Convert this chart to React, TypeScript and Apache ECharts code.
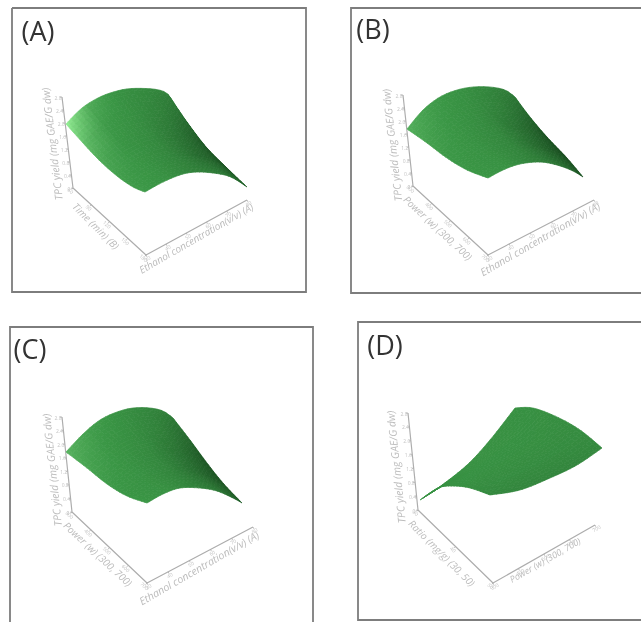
import React, { useEffect, useRef } from "react";
import * as echarts from "echarts";

type Pt = [number, number];

// --- Surface outlines (four edges: L→T, B→R, L→B, T→R)
const aLeftTop: Pt[] = [[66,124],[82,108],[100,97],[117,91],[132,88.5],[153,89],[165,92],[170,97]];
const aBottomRight: Pt[] = [[145,192],[163,182],[183,174],[200,172],[220,174],[233,178],[247,187]];
const aLeftBottom: Pt[] = [[66,124],[83,143],[100,161],[117,176],[133,187],[145,192]];
const aTopRight: Pt[] = [[170,97],[187,122],[207,148],[227,168],[247,187]];

const bLeftTop: Pt[] = [[407,129],[423,110],[440,97],[457,90],[473,87],[490,87],[505,90],[515,97]];
const bBottomRight: Pt[] = [[488,178],[503,170],[520,164],[540,162],[557,165],[573,171],[583,177]];
const bLeftBottom: Pt[] = [[407,129],[427,143],[447,158],[467,170],[488,178]];
const bTopRight: Pt[] = [[515,97],[530,117],[547,137],[567,158],[583,177]];

const cLeftTop: Pt[] = [[66,452],[83,434],[100,420],[117,412],[133,408],[150,408],[163,411],[173,418]];
const cBottomRight: Pt[] = [[147,503],[163,494],[180,488],[200,488],[217,491],[233,498],[242,503]];
const cLeftBottom: Pt[] = [[66,452],[87,468],[107,484],[127,496],[147,503]];
const cTopRight: Pt[] = [[173,418],[190,440],[207,463],[223,483],[242,503]];

const dLeftTop: Pt[] = [[420,500],[438,488],[467,465],[490,440],[515,408]];
const dBottomRight: Pt[] = [[490,495],[520,490],[550,478],[577,465],[602,448]];
const dLeftBottom: Pt[] = [[420,500],[438,488],[453,486],[470,488],[490,495]];
const dTopRight: Pt[] = [[515,408],[533,408],[557,417],[580,430],[602,448]];

// --- Shading (0 dark, .5 mid green, 1 pale green)
const aShade = [
  [1.0, .62, .48, .44, .38],
  [.72, .52, .46, .38, .25],
  [.60, .49, .43, .30, .12],
  [.54, .48, .40, .24, .10],
  [.52, .47, .38, .34, .20],
];
const bShade = [
  [.64, .54, .48, .42, .34],
  [.56, .50, .45, .36, .20],
  [.52, .48, .42, .27, .09],
  [.50, .47, .40, .22, .06],
  [.50, .47, .38, .30, .12],
];
const cShade = [
  [.66, .55, .48, .42, .36],
  [.58, .50, .45, .37, .22],
  [.53, .48, .42, .29, .12],
  [.50, .47, .40, .25, .10],
  [.50, .47, .39, .32, .18],
];
const dShade = [
  [.48, .48, .47, .47, .47],
  [.48, .47, .47, .47, .46],
  [.47, .46, .46, .46, .45],
  [.45, .44, .44, .44, .44],
  [.42, .40, .40, .40, .42],
];

// --- Axis lines: top of z axis, origin, floor corner, far end of floor axis
const aAxes: Pt[] = [[62,97],[73,188],[146,255],[247,200]];
const bAxes: Pt[] = [[403,95],[413,186],[488,255],[594,200]];
const cAxes: Pt[] = [[62,417],[72,512],[147,583],[253,527]];
const dAxes: Pt[] = [[408,413],[418,510],[493,583],[595,525]];

// --- Texts
const panelLabels = ["(A)", "(B)", "(C)", "(D)"];
const zTitle = "TPC yield (mg GAE/G dw)";
const ethanolTitle = "Ethanol concentration(v/v) (A)";
const timeTitle = "Time (min) (B)";
const powerTitle = "Power (w) (300, 700)";
const ratioTitle = "Ratio (mg/g) (30, 50)";
const zTicks = ["0", "0.4", "0.8", "1.2", "1.6", "2.0", "2.4", "2.8"];
const ethanolTicks = ["30", "40", "50", "60", "70", "80"];
const timeTicks = ["60", "90", "120", "150", "180"];
const powerTicks = ["300", "400", "500", "600", "700"];
const ratioTicks = ["30", "40", "50"];

const ramp = ["#123f18", "#3a9645", "#9af59a"];
const axisColor = "#adadad";
const textColor = "#bcbcbc";

const panels = [
  { edges: [aLeftTop, aBottomRight, aLeftBottom, aTopRight], shade: aShade, axes: aAxes,
    left: timeTitle, leftTicks: timeTicks, right: ethanolTitle, rightTicks: ethanolTicks,
    zPos: [52,144], lPos: [96,226], lRot: -45, rPos: [196,238], rRot: 30, rSize: 10, label: [38,30] },
  { edges: [bLeftTop, bBottomRight, bLeftBottom, bTopRight], shade: bShade, axes: bAxes,
    left: powerTitle, leftTicks: powerTicks, right: ethanolTitle, rightTicks: ethanolTicks,
    zPos: [392,145], lPos: [438,228], lRot: -43, rPos: [540,239], rRot: 30, rSize: 10.5, label: [373,28] },
  { edges: [cLeftTop, cBottomRight, cLeftBottom, cTopRight], shade: cShade, axes: cAxes,
    left: powerTitle, leftTicks: powerTicks, right: ethanolTitle, rightTicks: ethanolTicks,
    zPos: [52,470], lPos: [98,554], lRot: -43, rPos: [199,568], rRot: 30, rSize: 10.5, label: [30,348] },
  { edges: [dLeftTop, dBottomRight, dLeftBottom, dTopRight], shade: dShade, axes: dAxes,
    left: ratioTitle, leftTicks: ratioTicks, right: powerTitle, rightTicks: powerTicks,
    zPos: [396,467], lPos: [442,553], lRot: -45, rPos: [545,560], rRot: 30, rSize: 9, label: [385,344] },
];

const frames = [
  { points: [[12,8],[306,8],[306,292],[12,292],[12,8]] },
  { points: [[641,8],[351,8],[351,293],[641,293]] },
  { points: [[10,622],[10,327],[313,327],[313,622]] },
  { points: [[641,322],[358,322],[358,620],[641,620]] },
];

const MESH = 26;

function sampleEdge(pts: Pt[], n: number): Pt[] {
  const lens = [0];
  for (let i = 1; i < pts.length; i++) {
    lens.push(lens[i - 1] + Math.hypot(pts[i][0] - pts[i - 1][0], pts[i][1] - pts[i - 1][1]));
  }
  const total = lens[lens.length - 1];
  const out: Pt[] = [];
  for (let k = 0; k <= n; k++) {
    const d = (k / n) * total;
    let i = 0;
    while (i < pts.length - 2 && lens[i + 1] < d) i++;
    const f = (d - lens[i]) / (lens[i + 1] - lens[i]);
    const p0 = pts[Math.max(i - 1, 0)], p1 = pts[i], p2 = pts[i + 1], p3 = pts[Math.min(i + 2, pts.length - 1)];
    const cr = (a: number, b: number, c: number, e: number) =>
      0.5 * (2 * b + (c - a) * f + (2 * a - 5 * b + 4 * c - e) * f * f + (3 * b - a - 3 * c + e) * f * f * f);
    out.push([cr(p0[0], p1[0], p2[0], p3[0]), cr(p0[1], p1[1], p2[1], p3[1])]);
  }
  return out;
}

function shadeAt(g: number[][], s: number, t: number) {
  const m = g.length - 1;
  const x = Math.min(s * m, m - 1e-6), y = Math.min(t * m, m - 1e-6);
  const i = Math.floor(y), j = Math.floor(x);
  const fx = x - j, fy = y - i;
  return (g[i][j] * (1 - fx) + g[i][j + 1] * fx) * (1 - fy) + (g[i + 1][j] * (1 - fx) + g[i + 1][j + 1] * fx) * fy;
}

function buildCells(edges: Pt[][], shade: number[][]) {
  const [e1, e2, e3, e4] = edges.map((e) => sampleEdge(e, MESH));
  const L = e1[0], T = e1[MESH], B = e2[0], R = e2[MESH];
  const P = (a: number, b: number): Pt => {
    const s = a / MESH, t = b / MESH;
    const f = (c: 0 | 1) =>
      (1 - t) * e1[a][c] + t * e2[a][c] + (1 - s) * e3[b][c] + s * e4[b][c] -
      ((1 - s) * (1 - t) * L[c] + s * (1 - t) * T[c] + (1 - s) * t * B[c] + s * t * R[c]);
    return [f(0), f(1)];
  };
  const cells: number[][] = [];
  for (let b = 0; b < MESH; b++) {
    for (let a = 0; a < MESH; a++) {
      const p = [P(a, b), P(a + 1, b), P(a + 1, b + 1), P(a, b + 1)];
      cells.push([...p[0], ...p[1], ...p[2], ...p[3], shadeAt(shade, (a + 0.5) / MESH, (b + 0.5) / MESH)]);
    }
  }
  return cells;
}

function surfaceSeries(edges: Pt[][], shade: number[][]) {
  return {
    type: "custom",
    silent: true,
    coordinateSystem: "cartesian2d",
    encode: { x: [0, 2, 4, 6], y: [1, 3, 5, 7] },
    data: buildCells(edges, shade),
    renderItem: (_: any, api: any) => {
      const pts = [0, 2, 4, 6].map((i) => api.coord([api.value(i), api.value(i + 1)]));
      const c = echarts.color.lerp(api.value(8), ramp);
      return { type: "polygon", shape: { points: pts }, style: { fill: c, stroke: c, lineWidth: 0.7 } };
    },
  };
}

function axisSeries(axes: Pt[], color: string) {
  return {
    type: "line",
    silent: true,
    symbol: "none",
    data: axes,
    lineStyle: { color, width: 1.2 },
    z: 1,
  };
}

function rotatedText(text: string, x: number, y: number, deg: number, size: number, color = textColor, style = "italic") {
  return {
    type: "text",
    x,
    y,
    rotation: (deg * Math.PI) / 180,
    silent: true,
    style: { text, x: 0, y: 0, align: "center", verticalAlign: "middle", fill: color, font: `${style} ${size}px "Open Sans"` },
  };
}

function tickElements(from: Pt, to: Pt, labels: string[], off: Pt, deg: number) {
  const out: any[] = [];
  labels.forEach((l, i) => {
    const f = i / (labels.length - 1);
    const x = from[0] + (to[0] - from[0]) * f;
    const y = from[1] + (to[1] - from[1]) * f;
    out.push({ type: "line", silent: true, shape: { x1: x, y1: y, x2: x + off[0] * 0.5, y2: y + off[1] * 0.5 }, style: { stroke: axisColor, lineWidth: 0.8 } });
    out.push(rotatedText(l, x + off[0], y + off[1], deg, 5, "#c4c4c4", "normal"));
  });
  return out;
}

function panelGraphics(p: (typeof panels)[number], i: number) {
  const [top, origin, corner, end] = p.axes;
  const zr = Math.atan2(origin[0] - top[0], origin[1] - top[1]);
  const zDeg = 90 + (zr * 180) / Math.PI;
  return [
    { type: "polyline", silent: true, shape: { points: frames[i].points }, style: { stroke: "#7d7d7d", lineWidth: 1.8, fill: "none" } },
    rotatedText(panelLabels[i], p.label[0], p.label[1], 0, 27, "#333333", "normal"),
    rotatedText(zTitle, p.zPos[0], p.zPos[1], zDeg, 10.5),
    rotatedText(p.left, p.lPos[0], p.lPos[1], p.lRot, 10),
    rotatedText(p.right, p.rPos[0], p.rPos[1], p.rRot, p.rSize),
    ...tickElements(origin, top, zTicks, [-4, 0.5], 0),
    ...tickElements(origin, corner, p.leftTicks, [-2.5, 3], -43),
    ...tickElements(corner, end, p.rightTicks, [1.5, 3.5], 30),
  ];
}

export default function App() {
  const ref = useRef<HTMLDivElement>(null);
  useEffect(() => {
    const chart = echarts.init(ref.current!, undefined, { renderer: "svg" });
    chart.setOption({
      animation: false,
      backgroundColor: "#fff",
      grid: { left: 0, right: 0, top: 0, bottom: 0 },
      xAxis: { type: "value", min: 0, max: 641, show: false },
      yAxis: { type: "value", min: 0, max: 622, inverse: true, show: false },
      tooltip: { show: false },
      graphic: panels.flatMap(panelGraphics),
      series: [
        ...panels.map((p) => axisSeries(p.axes, axisColor)),
        ...panels.map((p) => surfaceSeries(p.edges, p.shade)),
      ],
    });
    return () => chart.dispose();
  }, []);
  return (
    <div style={{ position: "fixed", left: 0, top: 0, width: 641, height: 622, overflow: "hidden", filter: "blur(0.6px)" }}>
      <div ref={ref} style={{ width: 641, height: 622 }} />
    </div>
  );
}
